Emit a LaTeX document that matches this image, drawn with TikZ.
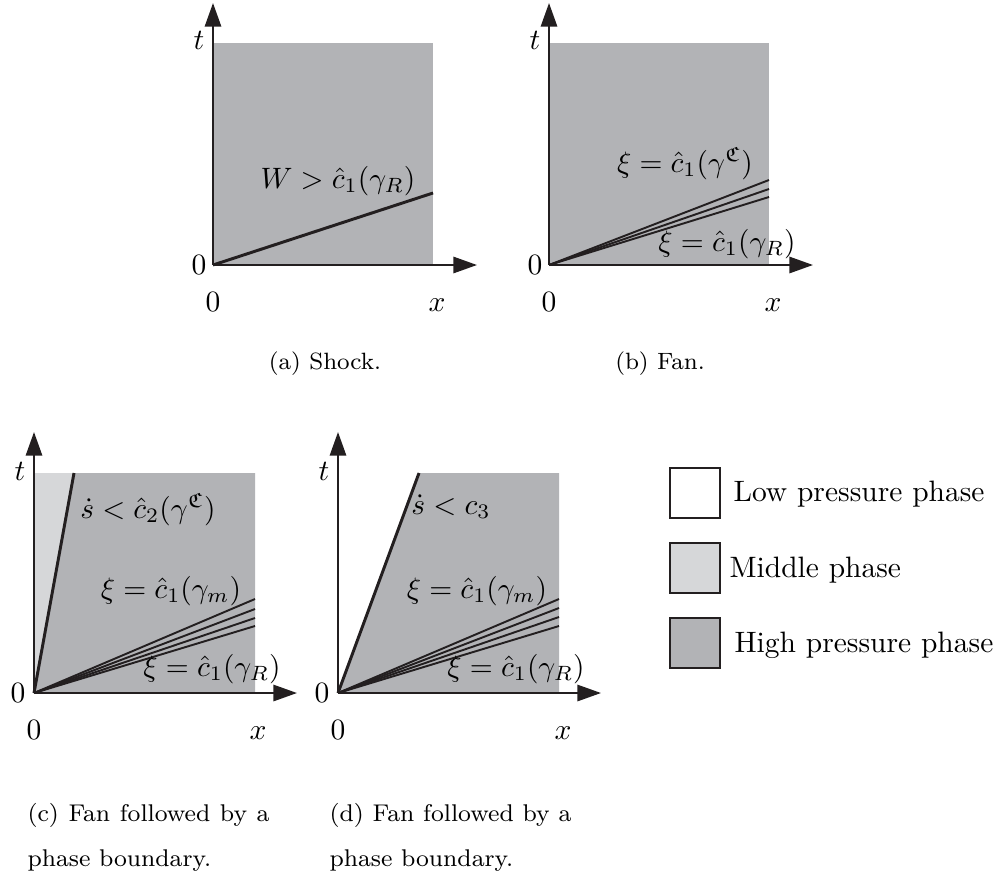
\documentclass[tikz,border=0pt]{standalone}
\usepackage{amsmath,amssymb}
\usetikzlibrary{arrows.meta}
\definecolor{hp}{RGB}{178,179,182}
\definecolor{mp}{RGB}{214,215,217}
\definecolor{ink}{RGB}{35,31,32}
\begin{document}
\begin{tikzpicture}[x=0.339pt,y=-0.339pt,
  axis/.style={draw=ink,line width=0.75pt,-{Triangle[length=8pt,width=5.5pt]}},
  fanline/.style={draw=ink,line width=0.65pt},
  bdry/.style={draw=ink,line width=1.0pt},
  lbl/.style={inner sep=0pt,anchor=base,font=\fontsize{10}{12}\selectfont},
  captxt/.style={inner sep=0pt,anchor=base,font=\fontsize{8}{9.6}\selectfont},
  captxtl/.style={captxt,anchor=base west,font=\fontsize{8.2}{9.8}\selectfont},
  legbox/.style={draw=ink,line width=0.85pt,minimum width=16.95pt,minimum height=16.95pt,inner sep=0pt},
  legtxt/.style={inner sep=0pt,anchor=base west,font=\fontsize{10}{12}\selectfont}]
\useasboundingbox (0,0) rectangle (997,875);

% ---------- panel (a)
\coordinate (ao) at (213,265);
\coordinate (aT) at (213,3);
\coordinate (aX) at (477,265);
\coordinate (aE) at (433,193);
\fill[hp] (213,43) rectangle (433,265);
\draw[bdry] (ao) -- (aE);
\draw[axis] (ao) -- (aT);
\draw[axis] (ao) -- (aX);
\node[lbl] (at) at (199,50) {$t$};
\node[lbl] (a0l) at (199,274) {$0$};
\node[lbl] (a0b) at (213,311) {$0$};
\node[lbl] (ax) at (437,311) {$x$};
\node[lbl] (aW) at (338,188) {$W>\hat{c}_1(\gamma_R)$};
\node[captxt] (acap) at (325,369) {(a) Shock.};

% ---------- panel (b)
\coordinate (bo) at (549,265);
\coordinate (bT) at (549,3);
\coordinate (bX) at (813,265);
\coordinate (bE1) at (769,180);
\coordinate (bE2) at (769,189);
\coordinate (bE3) at (769,197);
\fill[hp] (549,43) rectangle (769,265);
\draw[fanline] (bo) -- (bE1);
\draw[fanline] (bo) -- (bE2);
\draw[fanline] (bo) -- (bE3);
\draw[axis] (bo) -- (bT);
\draw[axis] (bo) -- (bX);
\node[lbl] (bt) at (535,50) {$t$};
\node[lbl] (b0l) at (535,274) {$0$};
\node[lbl] (b0b) at (549,311) {$0$};
\node[lbl] (bx) at (773,311) {$x$};
\node[lbl] (bL1) at (685,172) {$\xi=\hat{c}_1(\gamma^{\mathfrak{C}})$};
\node[lbl] (bL2) at (727,251) {$\xi=\hat{c}_1(\gamma_R)$};
\node[captxt] (bcap) at (660,369) {(b) Fan.};

% ---------- panel (c)
\coordinate (co) at (34,693);
\coordinate (cT) at (34,432);
\coordinate (cX) at (297,693);
\coordinate (cB) at (74,473);
\coordinate (cE1) at (255,599);
\coordinate (cE2) at (255,609);
\coordinate (cE3) at (255,618);
\coordinate (cE4) at (255,626);
\fill[mp] (34,693) -- (34,473) -- (74,473) -- cycle;
\fill[hp] (34,693) -- (74,473) -- (255,473) -- (255,693) -- cycle;
\draw[fanline] (co) -- (cE1);
\draw[fanline] (co) -- (cE2);
\draw[fanline] (co) -- (cE3);
\draw[fanline] (co) -- (cE4);
\draw[bdry] (co) -- (cB);
\draw[axis] (co) -- (cT);
\draw[axis] (co) -- (cX);
\node[lbl] (ct) at (20,480) {$t$};
\node[lbl] (c0l) at (18,702) {$0$};
\node[lbl] (c0b) at (34,739) {$0$};
\node[lbl] (cx) at (258,739) {$x$};
\node[lbl] (cL1) at (148,518) {$\dot{s}<\hat{c}_2(\gamma^{\mathfrak{C}})$};
\node[lbl] (cL2) at (171,598) {$\xi=\hat{c}_1(\gamma_m)$};
\node[lbl] (cL3) at (212,676) {$\xi=\hat{c}_1(\gamma_R)$};
\node[captxtl] (ccap1) at (27,821) {\makebox[82pt][s]{(c) Fan followed by a}};
\node[captxtl] (ccap2) at (27,866) {phase boundary.};

% ---------- panel (d)
\coordinate (do) at (338,693);
\coordinate (dT) at (338,432);
\coordinate (dX) at (601,693);
\coordinate (dB) at (419,473);
\coordinate (dE1) at (559,599);
\coordinate (dE2) at (559,608);
\coordinate (dE3) at (559,617);
\coordinate (dE4) at (559,626);
\fill[hp] (338,693) -- (419,473) -- (559,473) -- (559,693) -- cycle;
\draw[fanline] (do) -- (dE1);
\draw[fanline] (do) -- (dE2);
\draw[fanline] (do) -- (dE3);
\draw[fanline] (do) -- (dE4);
\draw[bdry] (do) -- (dB);
\draw[axis] (do) -- (dT);
\draw[axis] (do) -- (dX);
\node[lbl] (dt) at (324,480) {$t$};
\node[lbl] (d0l) at (322,702) {$0$};
\node[lbl] (d0b) at (338,739) {$0$};
\node[lbl] (dx) at (563,739) {$x$};
\node[lbl] (dL1) at (451,514) {$\dot{s}<c_3$};
\node[lbl] (dL2) at (477,598) {$\xi=\hat{c}_1(\gamma_m)$};
\node[lbl] (dL3) at (516,676) {$\xi=\hat{c}_1(\gamma_R)$};
\node[captxtl] (dcap1) at (329,821) {\makebox[82pt][s]{(d) Fan followed by a}};
\node[captxtl] (dcap2) at (329,866) {phase boundary.};

% ---------- legend
\node[legbox,fill=white] (lg1) at (695,493) {};
\node[legbox,fill=mp] (lg2) at (695,568) {};
\node[legbox,fill=hp] (lg3) at (695,643) {};
\node[legtxt] (lt1) at (733,501) {Low pressure phase};
\node[legtxt] (lt2) at (729,577) {Middle phase};
\node[legtxt] (lt3) at (734,652) {High pressure phase};
\end{tikzpicture}
\end{document}
